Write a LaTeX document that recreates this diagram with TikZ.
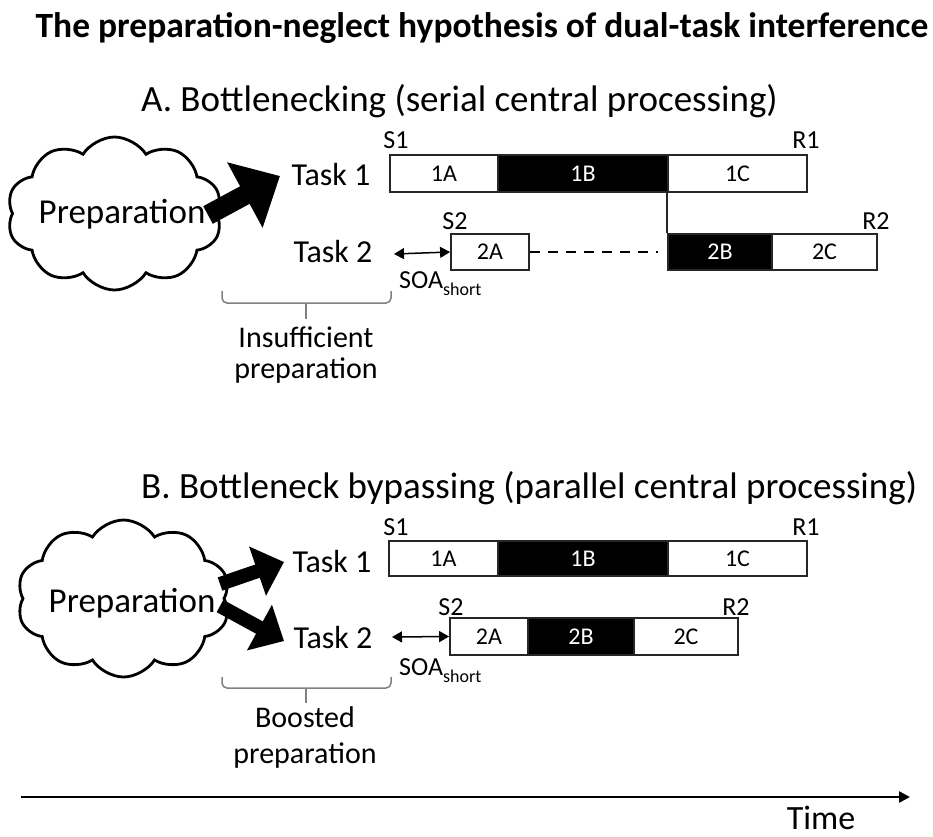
\documentclass[tikz,border=0pt]{standalone}
\usepackage{fontspec}
\setmainfont{Carlito}
\usetikzlibrary{shapes.symbols,arrows.meta}
\tikzset{
  fz/.style={font=\fontsize{#1}{#1}\selectfont},
  wbox/.style={draw=black!85, line width=1.8pt, fill=white, inner sep=0pt, fz=24, text=black},
  bbox/.style={draw=black!85, line width=1.8pt, fill=black, inner sep=0pt, fz=24, text=white},
  lbl/.style={anchor=base, inner sep=0pt, fz=26},
  tasklbl/.style={anchor=base, inner sep=0pt, fz=32},
  head/.style={anchor=base west, inner sep=0pt, fz=37},
  preptxt/.style={anchor=base, inner sep=0pt, fz=35},
  bracetxt/.style={anchor=base, inner sep=0pt, fz=30},
  cloudshape/.style={cloud, draw, line width=2.8pt, fill=white, cloud puffs=10, cloud puff arc=115, cloud ignores aspect, inner sep=0pt},
  bigarrow/.style 2 args={line width=#1, -{Triangle[length=#2, width=1.8*#2]}},
  soa/.style={line width=1.5pt, {Triangle[length=10pt,width=11pt]}-{Triangle[length=10pt,width=11pt]}},
  bracestyle/.style={draw=black!50, line width=1.5pt, rounded corners=5pt},
}
\begin{document}
\begin{tikzpicture}[x=1pt,y=-1pt]
\useasboundingbox (0,0) rectangle (933,836);

% title
\node[anchor=base, inner sep=0pt, font=\fontsize{35.5}{36}\selectfont\bfseries] (title) at (482,37) {The preparation-neglect hypothesis of dual-task interference};

% ---------- A ----------
\node[head] (headA) at (141,111) {A. Bottlenecking (serial central processing)};

\node[cloudshape, minimum width=215pt, minimum height=153pt] (cloudA) at (114.5,213.5) {};
\node[preptxt] (prepA) at (122,223) {Preparation};

\node[tasklbl] (t1A) at (331,185) {Task 1};
\node[tasklbl] (t2A) at (333,262) {Task 2};

\coordinate (arrAs) at (208,215);
\coordinate (arrAe) at (280,176);
\draw[bigarrow={20pt}{40pt}] (arrAs) -- (arrAe);

\node[wbox, minimum width=108pt, minimum height=37pt] (a1A) at (444,173.5) {1A};
\node[bbox, minimum width=170pt, minimum height=37pt] (a1B) at (583,173.5) {1B};
\node[wbox, minimum width=139pt, minimum height=37pt] (a1C) at (737.5,173.5) {1C};

\node[wbox, minimum width=78pt, minimum height=36pt] (a2A) at (490,252) {2A};
\node[bbox, minimum width=104pt, minimum height=36pt] (a2B) at (720,252) {2B};
\node[wbox, minimum width=105pt, minimum height=36pt] (a2C) at (824.5,252) {2C};

\draw[line width=1.8pt, black!85] (a1C.south west) -- (a2B.north west);
\draw[line width=2.5pt, dash pattern=on 10pt off 8pt] (a2A.east) -- ([xshift=-9pt]a2B.west);

\node[lbl] (s1A) at (396,148) {S1};
\node[lbl] (r1A) at (806,148) {R1};
\node[lbl] (s2A) at (455,229) {S2};
\node[lbl] (r2A) at (876,229) {R2};

\coordinate (soaAs) at (394,254);
\draw[soa] (soaAs) -- (a2A.west);
\node[anchor=base west, inner sep=0pt, fz=26] (soaA) at (399,288) {SOA\raisebox{-0.3em}{\fontsize{18}{18}\selectfont short}};

\draw[bracestyle] (222,291) |- (306,303) -| (391,291);
\draw[bracestyle] (306,303) -- (306,319);
\node[bracetxt] (insA) at (306,347) {Insufficient};
\node[bracetxt] (insB) at (306,378) {preparation};

% ---------- B ----------
\node[head] (headB) at (141,498) {B. Bottleneck bypassing (parallel central processing)};

\node[cloudshape, minimum width=213pt, minimum height=157pt] (cloudB) at (123.5,598.5) {};
\node[preptxt] (prepB) at (132,612) {Preparation};

\node[tasklbl] (t1B) at (332,572) {Task 1};
\node[tasklbl] (t2B) at (333,648) {Task 2};

\coordinate (arrB1s) at (220,584);
\coordinate (arrB1e) at (284,562);
\coordinate (arrB2s) at (220,606);
\coordinate (arrB2e) at (284,641);
\draw[bigarrow={14pt}{28pt}] (arrB1s) -- (arrB1e);
\draw[bigarrow={14pt}{28pt}] (arrB2s) -- (arrB2e);

\node[wbox, minimum width=109pt, minimum height=35pt] (b1A) at (443.5,558.5) {1A};
\node[bbox, minimum width=170pt, minimum height=35pt] (b1B) at (583,558.5) {1B};
\node[wbox, minimum width=139pt, minimum height=35pt] (b1C) at (737.5,558.5) {1C};

\node[wbox, minimum width=78pt, minimum height=37pt] (b2A) at (489,636.5) {2A};
\node[bbox, minimum width=106pt, minimum height=37pt] (b2B) at (581,636.5) {2B};
\node[wbox, minimum width=104pt, minimum height=37pt] (b2C) at (686,636.5) {2C};

\node[lbl] (s1B) at (396,535) {S1};
\node[lbl] (r1B) at (806,535) {R1};
\node[lbl] (s2B) at (451,615) {S2};
\node[lbl] (r2B) at (736,615) {R2};

\coordinate (soaBs) at (392,637);
\draw[soa] (soaBs) -- (b2A.west);
\node[anchor=base west, inner sep=0pt, fz=26] (soaB) at (399,675) {SOA\raisebox{-0.3em}{\fontsize{18}{18}\selectfont short}};

\draw[bracestyle] (222,677) |- (306,688) -| (391,677);
\draw[bracestyle] (306,688) -- (306,703);
\node[bracetxt] (boA) at (305,727) {Boosted};
\node[bracetxt] (boB) at (305,763) {preparation};

% ---------- time axis ----------
\coordinate (t0) at (21,797);
\coordinate (t1) at (910,797);
\draw[line width=2.5pt, -{Triangle[length=11pt,width=11pt]}] (t0) -- (t1);
\node[anchor=base, inner sep=0pt, fz=34] (time) at (821,829) {Time};
\end{tikzpicture}
\end{document}
